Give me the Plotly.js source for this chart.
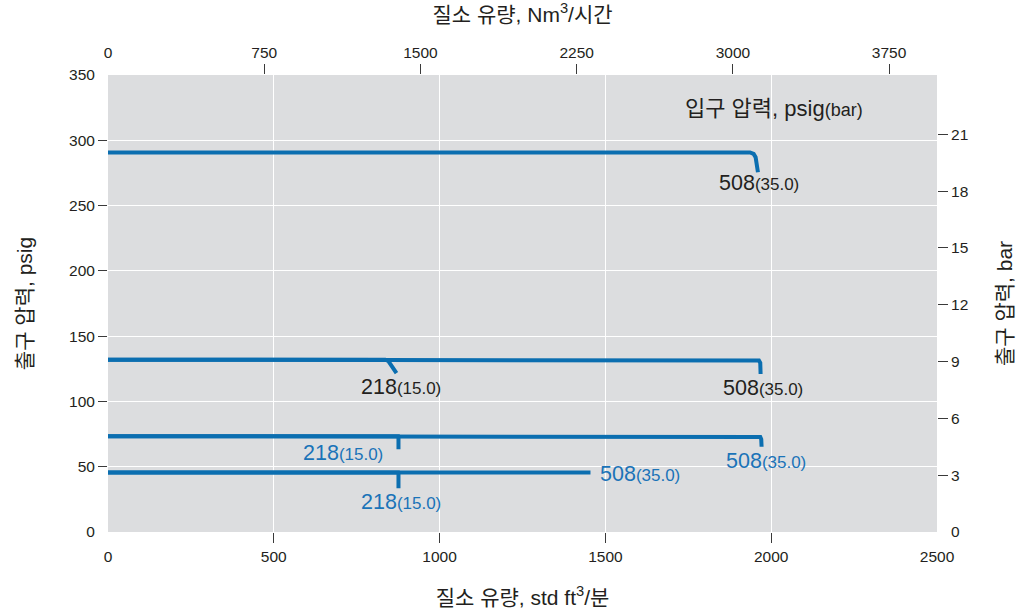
<!DOCTYPE html>
<html>
<head>
<meta charset="utf-8">
<script src="https://cdn.plot.ly/plotly-3.0.1.min.js"></script>
<style>html,body{margin:0;padding:0;background:#fff;}#chart{width:1030px;height:613px;}</style>
</head>
<body>
<div id="chart"></div>
<script>
// ---- data (flow in std ft3/min, outlet pressure in psig) ----
const c1_508_flow = [0, 1936, 1947, 1953, 1960];
const c1_508_out  = [290.7, 290.7, 289.6, 287, 275.5];

const c2_508_flow = [0, 1955, 1963, 1967, 1968, 1968];
const c2_508_out  = [132, 132, 131.3, 129.5, 126.5, 121];
const c2_218_flow = [0, 836, 845, 852, 870];
const c2_218_out  = [132, 132, 131, 128, 121.7];

const c3_508_flow = [0, 1960, 1967, 1970, 1971, 1971];
const c3_508_out  = [73.4, 73.4, 72.8, 71, 68.5, 65.3];
const c3_218_flow = [0, 875, 876, 876];
const c3_218_out  = [73.4, 73.4, 72.5, 63.3];

const c4_508_flow = [0, 1455];
const c4_508_out  = [45.5, 45.5];
const c4_218_flow = [0, 875, 876, 876];
const c4_218_out  = [45.5, 45.5, 44.5, 33.5];

const bottomTicks = [0, 500, 1000, 1500, 2000, 2500];
const bottomTickMarks = [500, 1000, 1500, 2000];
const topTicks = [0, 750, 1500, 2250, 3000, 3750];
const topTickMarks = [750, 1500, 2250, 3000, 3750];
const leftTicks = [0, 50, 100, 150, 200, 250, 300, 350];
const leftTickMarks = [50, 100, 150, 200, 250, 300];
const rightTicks = [0, 3, 6, 9, 12, 15, 18, 21];
const rightTickMarks = [3, 6, 9, 12, 15, 18, 21];

const inletPsig = ['508', '218', '508', '218', '508', '508', '218'];
const inletBar  = ['35.0', '15.0', '35.0', '15.0', '35.0', '35.0', '15.0'];

const PSI_PER_BAR = 14.5038;
const NM3H_PER_SCFM = 1.592;
const X_MAX = 2500, Y_MAX = 350;

const FONT = 'Liberation Sans, Arial, Noto Sans CJK KR, sans-serif';
const LINE = '#0b6eb0';
const BLUE = '#1a73b8';
const DARK = '#231f20';
const TICKC = '#3a3a3a';

function curve(x, y) {
  return {x: x, y: y, type: 'scatter', mode: 'lines', xaxis: 'x', yaxis: 'y',
    line: {color: LINE, width: 4}, hoverinfo: 'skip', showlegend: false};
}
const traces = [
  curve(c1_508_flow, c1_508_out),
  curve(c2_508_flow, c2_508_out), curve(c2_218_flow, c2_218_out),
  curve(c3_508_flow, c3_508_out), curve(c3_218_flow, c3_218_out),
  curve(c4_508_flow, c4_508_out), curve(c4_218_flow, c4_218_out),
  {x: [0], y: [0], xaxis: 'x2', yaxis: 'y2', mode: 'lines', hoverinfo: 'skip', showlegend: false},
  {x: [0], y: [0], xaxis: 'x3', yaxis: 'y3', mode: 'lines', hoverinfo: 'skip', showlegend: false},
  {x: [0], y: [0], xaxis: 'x4', yaxis: 'y4', mode: 'lines', hoverinfo: 'skip', showlegend: false}
];

function lbl(i, x, y, color, anchor) {
  return {
    x: x, y: y, xref: 'x', yref: 'y', showarrow: false,
    xanchor: anchor || 'center', yanchor: 'middle',
    text: inletPsig[i] + '<span style="font-size:17px">(' + inletBar[i] + ')</span>',
    font: {family: FONT, size: 21.5, color: color}
  };
}

const tickFont = {family: FONT, size: 15.5, color: DARK};
const titleFont = {family: FONT, size: 21, color: DARK};

const layout = {
  width: 1030, height: 613,
  margin: {l: 108, r: 92.5, t: 75, b: 80.5},
  paper_bgcolor: '#ffffff',
  plot_bgcolor: '#dcdddf',
  showlegend: false,
  font: {family: FONT, color: DARK},
  xaxis: {
    range: [0, X_MAX], tickmode: 'array', tickvals: bottomTicks,
    ticks: 'outside', ticklen: 10, tickcolor: 'rgba(0,0,0,0)',
    showgrid: true, gridcolor: '#ffffff', gridwidth: 1.2, zeroline: false, showline: false,
    tickfont: tickFont,
    title: {text: '질소 유량, std ft<sup>3</sup>/분', font: titleFont, standoff: 26}
  },
  xaxis2: {
    overlaying: 'x', side: 'top', anchor: 'y',
    range: [0, X_MAX * NM3H_PER_SCFM], tickmode: 'array', tickvals: topTicks,
    ticks: 'outside', ticklen: 10, tickcolor: 'rgba(0,0,0,0)',
    showgrid: false, zeroline: false, showline: false, tickfont: tickFont,
    title: {text: '질소 유량, Nm<sup>3</sup>/시간', font: titleFont, standoff: 16}
  },
  xaxis3: {
    overlaying: 'x', side: 'bottom', anchor: 'y',
    range: [0, X_MAX], tickmode: 'array', tickvals: bottomTickMarks,
    ticks: 'outside', ticklen: 10, tickcolor: TICKC, tickwidth: 1,
    showticklabels: false, showgrid: false, zeroline: false, showline: false
  },
  xaxis4: {
    overlaying: 'x', side: 'top', anchor: 'y',
    range: [0, X_MAX * NM3H_PER_SCFM], tickmode: 'array', tickvals: topTickMarks,
    ticks: 'outside', ticklen: 10, tickcolor: TICKC, tickwidth: 1,
    showticklabels: false, showgrid: false, zeroline: false, showline: false
  },
  yaxis: {
    range: [0, Y_MAX], tickmode: 'array', tickvals: leftTicks,
    ticks: 'outside', ticklen: 9, tickcolor: 'rgba(0,0,0,0)',
    showgrid: true, gridcolor: '#ffffff', gridwidth: 1.2, zeroline: false, showline: false,
    tickfont: tickFont,
    title: {text: '출구 압력, psig', font: titleFont, standoff: 30}
  },
  yaxis2: {
    overlaying: 'y', side: 'right', anchor: 'x',
    range: [0, Y_MAX / PSI_PER_BAR], tickmode: 'array', tickvals: rightTicks,
    ticks: 'outside', ticklen: 10, tickcolor: 'rgba(0,0,0,0)',
    showgrid: false, zeroline: false, showline: false, tickfont: tickFont,
    title: {text: '출구 압력, bar', font: titleFont, standoff: 29}
  },
  yaxis3: {
    overlaying: 'y', side: 'left', anchor: 'x',
    range: [0, Y_MAX], tickmode: 'array', tickvals: leftTickMarks,
    ticks: 'outside', ticklen: 9, tickcolor: TICKC, tickwidth: 1,
    showticklabels: false, showgrid: false, zeroline: false, showline: false
  },
  yaxis4: {
    overlaying: 'y', side: 'right', anchor: 'x',
    range: [0, Y_MAX / PSI_PER_BAR], tickmode: 'array', tickvals: rightTickMarks,
    ticks: 'outside', ticklen: 10, tickcolor: TICKC, tickwidth: 1,
    showticklabels: false, showgrid: false, zeroline: false, showline: false
  },
  annotations: [
    lbl(0, 1963, 267.4, DARK),
    lbl(1, 885, 111.3, DARK),
    lbl(2, 1974, 110.6, DARK),
    lbl(3, 710, 60.8, BLUE),
    lbl(4, 1983, 54.7, BLUE),
    lbl(5, 1478, 44.2, BLUE, 'left'),
    lbl(6, 885, 23.3, BLUE),
    {
      x: 2008, y: 324.2, xref: 'x', yref: 'y', showarrow: false,
      xanchor: 'center', yanchor: 'middle',
      text: '입구 압력, psig<span style="font-size:18px">(bar)</span>',
      font: {family: FONT, size: 22, color: DARK}
    }
  ]
};

Plotly.newPlot('chart', traces, layout, {staticPlot: true, displayModeBar: false});
</script>
</body>
</html>
